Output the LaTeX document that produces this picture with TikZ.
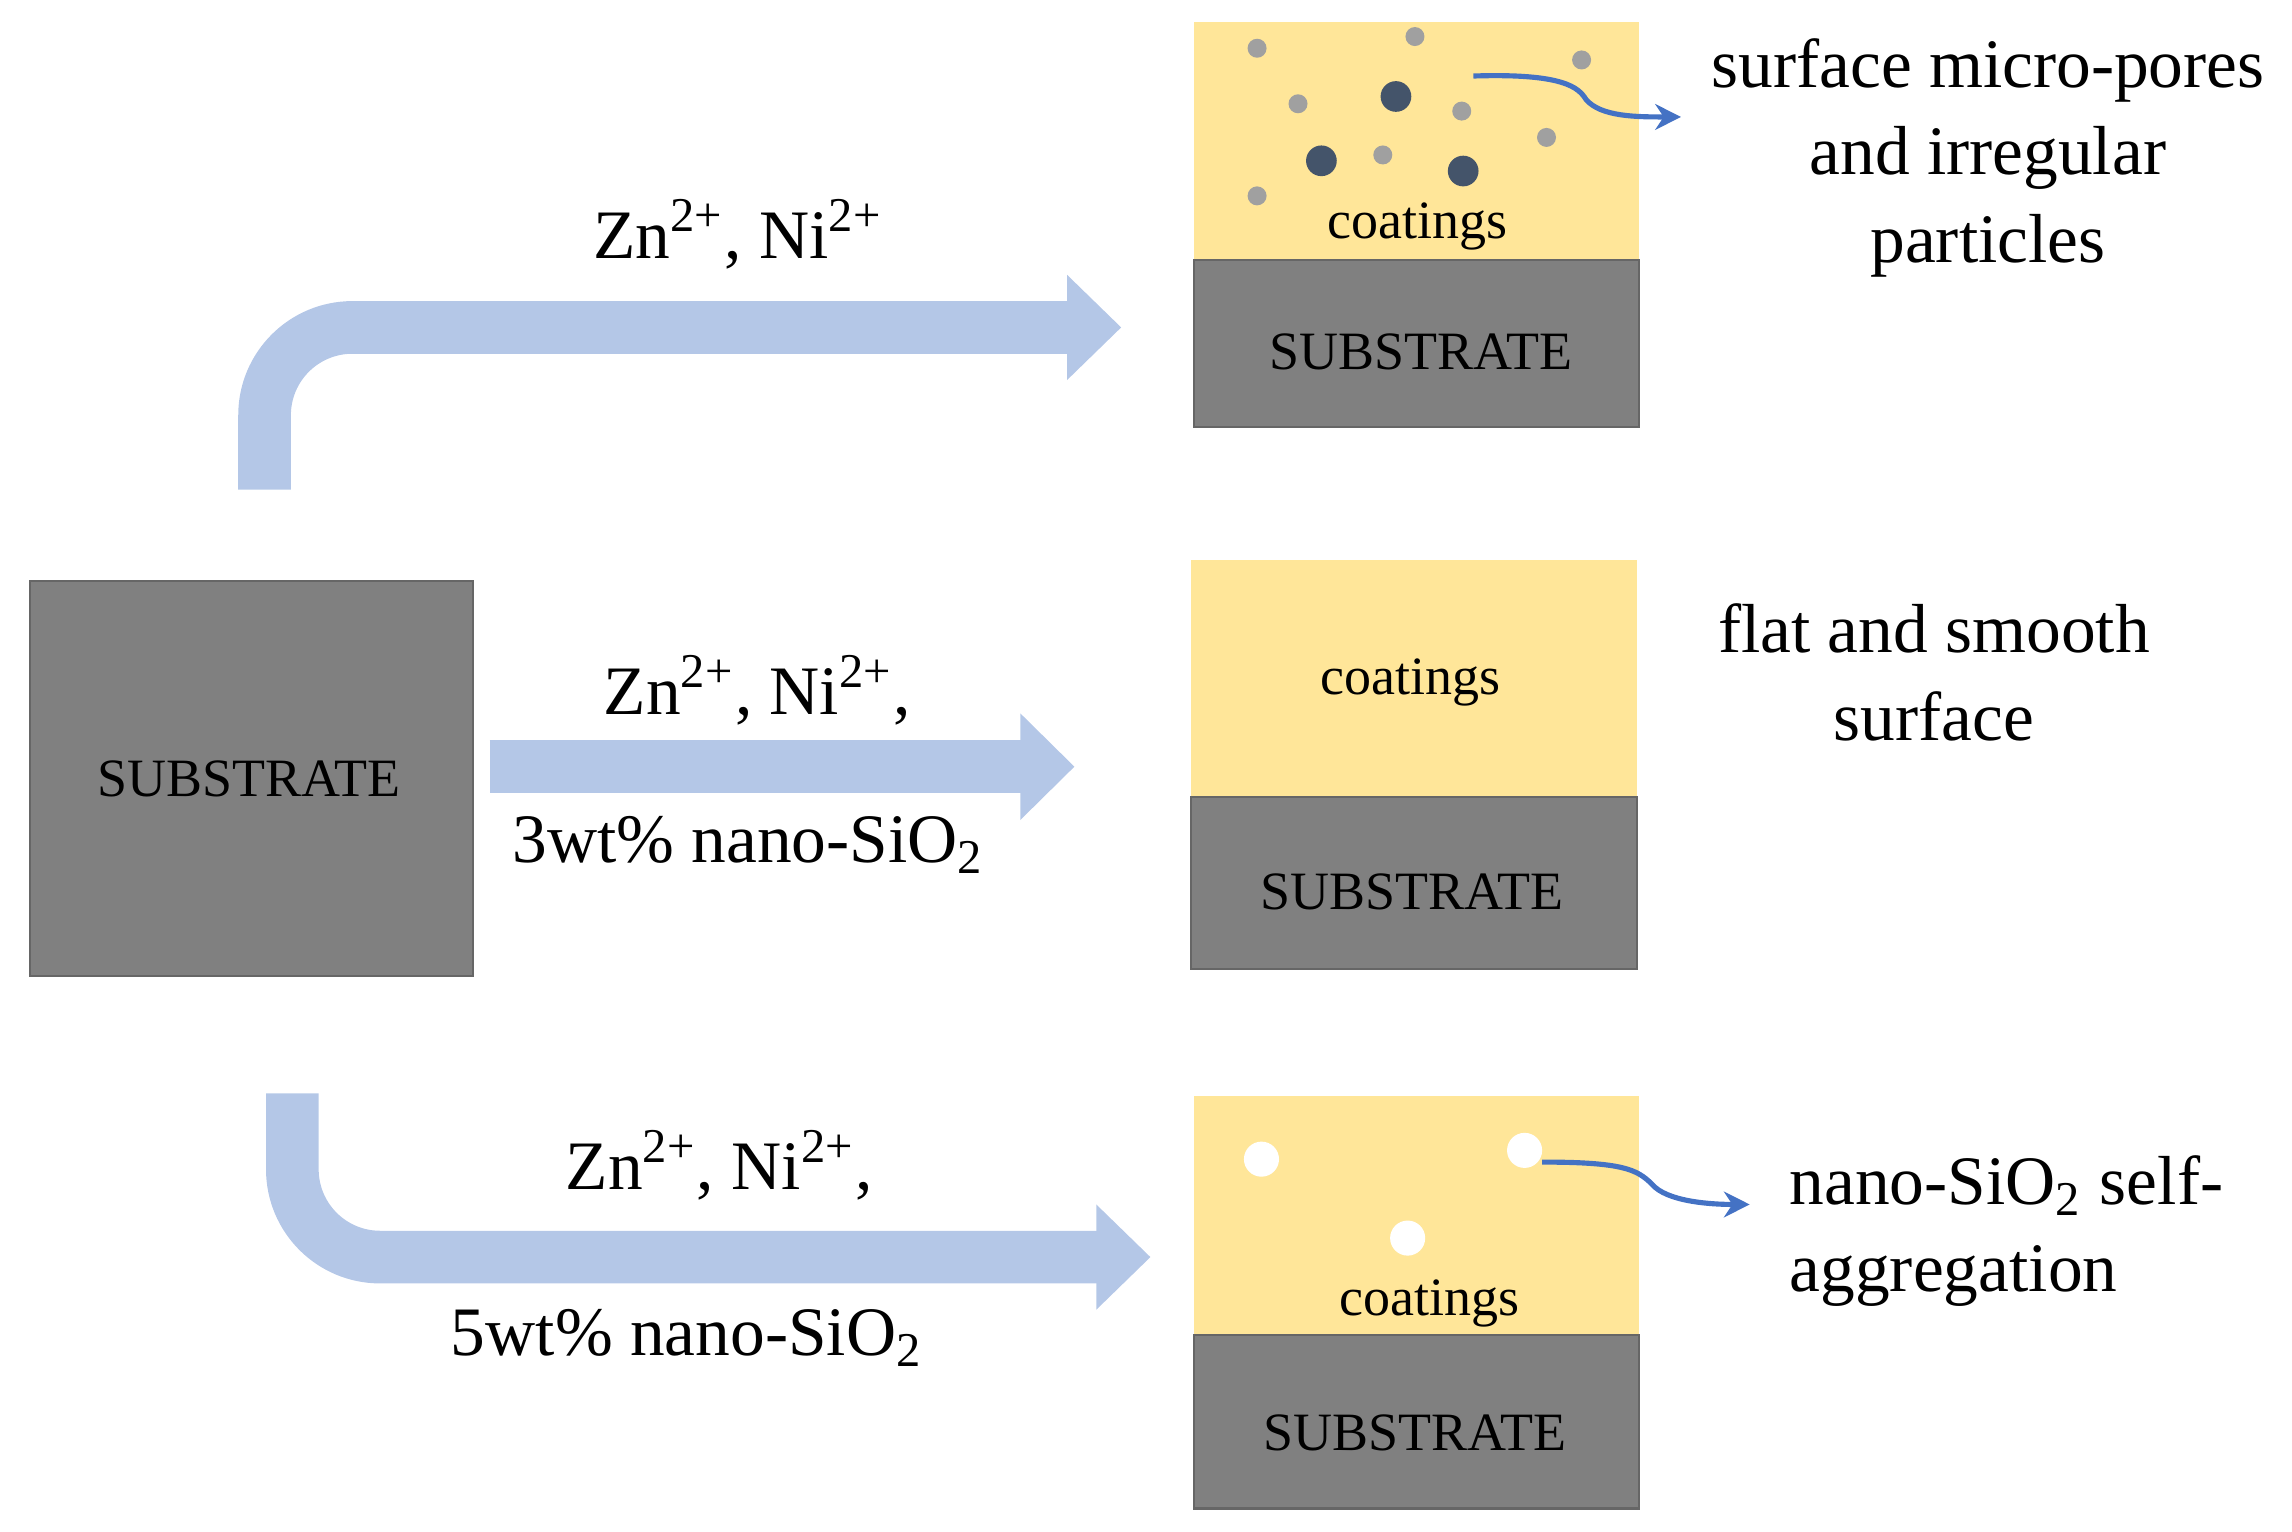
\documentclass[tikz,border=0pt]{standalone}
\usepackage{fontspec}
\setmainfont{Liberation Serif}
\usetikzlibrary{calc,arrows.meta}
\definecolor{coat}{RGB}{255,230,153}
\definecolor{sub}{RGB}{128,128,128}
\definecolor{flow}{RGB}{180,199,231}
\definecolor{pore}{RGB}{160,160,160}
\definecolor{part}{RGB}{68,84,106}
\definecolor{callout}{RGB}{68,114,196}
\tikzset{
  big/.style={font=\fontsize{13.5}{17}\selectfont, align=center},
  small/.style={font=\fontsize{10.5}{12}\selectfont},
  subbox/.style={fill=sub, draw=sub!80!black, line width=0.4pt},
  coatbox/.style={fill=coat},
  shaft/.style={draw=flow, line width=0.36cm, rounded corners=0.6cm},
  head/.style={fill=flow},
  pore/.style={fill=pore},
  grain/.style={fill=part},
  hole/.style={fill=white},
  call/.style={draw=callout, line width=1pt, -{Stealth[length=5pt,width=5pt]}}
}
\newcommand{\ions}{Zn\textsuperscript{2+}, Ni\textsuperscript{2+}}
\newcommand{\silica}{SiO\textsubscript{2}}
\begin{document}
\begin{tikzpicture}[x=0.01cm,y=-0.01cm]
\useasboundingbox (0,0) rectangle (1568,1048);
% left substrate
\node[subbox, minimum width=3.03cm, minimum height=2.7cm, anchor=north west, inner sep=0] (base) at (20,397) {};
\node[small] (basetxt) at (170,533) {SUBSTRATE};
% top sample
\fill[coatbox] (817,15) rectangle (1121,178);
\draw[subbox] (817,178) rectangle (1121,292);
\node[small] (c1) at (970,155) {coatings};
\node[small] (s1) at (972,241) {SUBSTRATE};
% middle sample
\fill[coatbox] (815,383) rectangle (1120,545);
\draw[subbox] (815,545) rectangle (1120,663);
\node[small] (c2) at (965,467) {coatings};
\node[small] (s2) at (966,610) {SUBSTRATE};
% bottom sample
\fill[coatbox] (817,750) rectangle (1121,913);
\draw[subbox] (817,913) rectangle (1121,1032);
\node[small] (c3) at (978,892) {coatings};
\node[small] (s3) at (968,980) {SUBSTRATE};
% process arrows
\draw[shaft] (181,335) -- (181,224) -- (732,224);
\fill[head] (730,188) -- (767,224) -- (730,260) -- cycle;
\draw[shaft] (335,524.5) -- (700,524.5);
\fill[head] (698,488) -- (735,524.5) -- (698,561) -- cycle;
\draw[shaft] (200,748) -- (200,860) -- (752,860);
\fill[head] (750,824) -- (787,860) -- (750,896) -- cycle;
% arrow labels
\node[big] (l1) at (505,160) {\ions};
\node[big] (l2) at (518,472) {\ions,};
\node[big] (l2b) at (512,578) {3wt\% nano-\silica};
\node[big] (l3) at (492,797) {\ions,};
\node[big] (l3b) at (470,915) {5wt\% nano-\silica};
% pores and particles
\foreach \p in {(860,33),(968,25),(1082,41),(888,71),(1000,76),(1058,94),(946,106),(860,134)}
  \fill[pore] \p circle (6.5);
\foreach \p in {(955,66),(904,110),(1001,117)}
  \fill[grain] \p circle (10.5);
\foreach \p in {(863,793),(1043,787),(963,847)}
  \fill[hole] \p circle (12);
% descriptions
\node[big] (d1) at (1360,108) {surface micro-pores\\and irregular\\particles};
\node[big] (d2) at (1323,460) {flat and smooth\\surface};
\node[big, align=left, anchor=west] (d3) at (1212,842) {nano-\silica{} self-\\aggregation};
\coordinate (p1) at (1008,52);
\coordinate (q1) at (1150,80);
\draw[call] (p1) .. controls (1070,50) and (1080,60) .. (1085,68) .. controls (1095,80) and (1120,80) .. (q1);
\coordinate (p3) at (1055,795);
\coordinate (q3) at (1197,824);
\draw[call] (p3) .. controls (1110,795) and (1120,800) .. (1130,810) .. controls (1140,822) and (1170,824) .. (q3);
\end{tikzpicture}
\end{document}
